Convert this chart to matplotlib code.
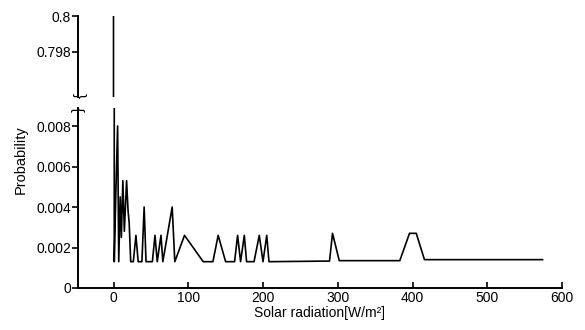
import numpy as np
import matplotlib
matplotlib.use("Agg")
import matplotlib.pyplot as plt

plt.rcParams['font.family'] = ['Liberation Sans', 'DejaVu Sans']

# solar radiation [W/m2] and probability
radiation = [0, 1, 3, 5.5, 7, 9, 10.5, 12.5, 14.5, 17.5, 19.5, 21, 23, 26.5, 30, 33,
             38, 41, 43.5, 52, 55.5, 58.5, 63.5, 66, 78.5, 82, 95, 120, 133, 140, 150,
             162, 166, 170, 175, 178, 188, 195, 200, 205, 208, 289, 293, 302, 383,
             396, 405, 416, 574]
probability = [0.8, 0.0013, 0.0045, 0.008, 0.0013, 0.0045, 0.0025, 0.0053, 0.0028,
               0.0053, 0.0038, 0.0032, 0.0013, 0.0013, 0.0026, 0.0013, 0.0013, 0.004,
               0.0013, 0.0013, 0.0026, 0.0013, 0.0026, 0.0013, 0.004, 0.0013, 0.0026,
               0.0013, 0.0013, 0.0026, 0.0013, 0.0013, 0.0026, 0.0013, 0.0026, 0.0013,
               0.0013, 0.0026, 0.0013, 0.0026, 0.0013, 0.00133, 0.0027, 0.00135,
               0.00135, 0.0027, 0.0027, 0.0014, 0.0014]

low_ticks = [0, 0.002, 0.004, 0.006, 0.008]
low_labels = ["0", "0.002", "0.004", "0.006", "0.008"]
high_ticks = [0.798, 0.8]
high_labels = ["0.798", "0.8"]
x_ticks = [0, 100, 200, 300, 400, 500, 600]

fig = plt.figure(figsize=(5.85, 3.3), dpi=100)
left, width = 78 / 585, 484 / 585
ax_lo = fig.add_axes([left, 0.1273, width, 0.546])
ax_hi = fig.add_axes([left, 0.706, width, 0.2455])

for ax in (ax_lo, ax_hi):
    ax.plot(radiation, probability, color="black", lw=1.2)
    ax.set_xlim(-47.5, 600)
    ax.spines["top"].set_visible(False)
    ax.spines["right"].set_visible(False)
    ax.tick_params(labelsize=10, colors="black", width=1.2, length=4, pad=1)

ax_lo.set_ylim(0, 0.0089)
ax_lo.set_yticks(low_ticks)
ax_lo.set_yticklabels(low_labels)
ax_lo.set_xticks(x_ticks)
ax_lo.tick_params(axis="x", direction="in", length=4, pad=2)
ax_lo.spines["left"].set_linewidth(1.4)
ax_lo.spines["bottom"].set_linewidth(1.4)
ax_lo.set_xlabel("Solar radiation[W/m²]", fontsize=10, labelpad=1)
ax_lo.xaxis.set_label_coords(0.5, -0.1)

ax_hi.set_ylim(0.79544, 0.8)
ax_hi.set_yticks(high_ticks)
ax_hi.set_yticklabels(high_labels)
ax_hi.spines["bottom"].set_visible(False)
ax_hi.spines["left"].set_linewidth(1.4)
ax_hi.set_xticks([])

# break marks on the left spine
fig.text(left + 0.002, 1 - 96 / 330, "}", rotation=-90, ha="center", va="center", fontsize=11)
fig.text(left + 0.002, 1 - 109 / 330, "}", rotation=90, ha="center", va="center", fontsize=11)

fig.text(0.036, 0.515, "Probability", rotation=90, ha="center", va="center", fontsize=10.5)

fig.savefig("out.png", dpi=100)
